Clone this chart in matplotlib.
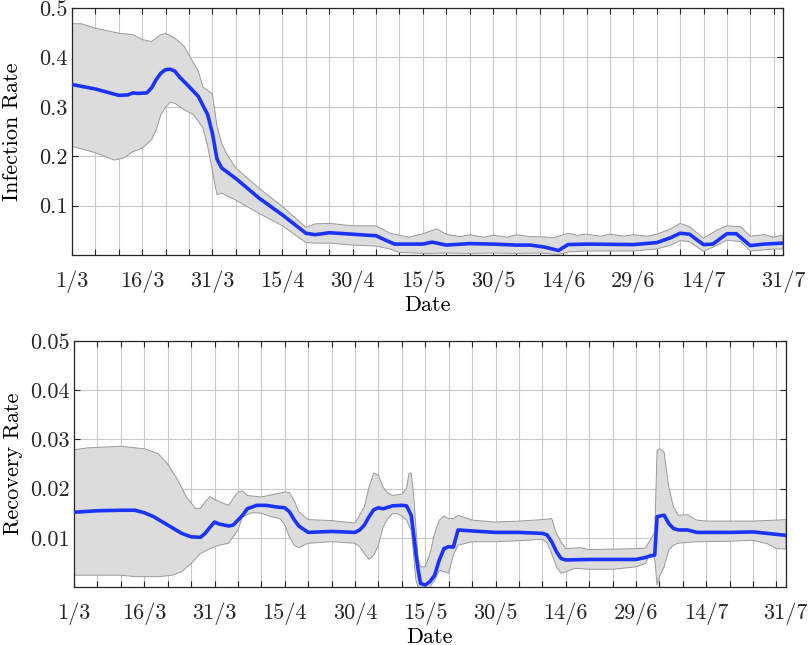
import numpy as np
import matplotlib
matplotlib.use("Agg")
import matplotlib.pyplot as plt

# days counted from 1 March
tick_days = [0, 15, 30, 45, 60, 75, 90, 105, 120, 135, 152]
tick_labels = ['1/3', '16/3', '31/3', '15/4', '30/4', '15/5', '30/5', '14/6', '29/6', '14/7', '31/7']

# infection rate: mean and band
inf_days = [0, 5, 10, 12, 13, 14, 16, 17, 18, 19, 20, 21, 22, 23, 25, 27, 29, 30, 31, 32,
            35, 40, 45, 50, 52, 55, 60, 63, 65, 67, 69, 72, 75, 77, 80, 85, 90, 95, 98, 101,
            104, 106, 110, 120, 125, 128, 130, 132, 135, 137, 140, 142, 145, 148, 152]
inf_mean = [0.345, 0.336, 0.323, 0.324, 0.328, 0.327, 0.328, 0.338, 0.355, 0.368,
            0.375, 0.376, 0.372, 0.360, 0.341, 0.321, 0.284, 0.247, 0.194, 0.176,
            0.155, 0.115, 0.081, 0.044, 0.041, 0.045, 0.042, 0.040, 0.039, 0.030,
            0.022, 0.022, 0.022, 0.026, 0.020, 0.023, 0.022, 0.020, 0.020, 0.016,
            0.009, 0.021, 0.022, 0.021, 0.025, 0.035, 0.044, 0.042, 0.021, 0.022,
            0.043, 0.043, 0.019, 0.022, 0.024]

inf_up_days = [0, 2, 5, 10, 13, 15, 17, 19, 20, 22, 24, 25, 27, 28, 30, 30.5, 31, 32, 33, 35,
               40, 45, 50, 52, 55, 60, 65, 68, 70, 72, 75, 78, 80, 83, 85, 88, 90, 93, 95, 98,
               100, 103, 106, 108, 110, 113, 115, 118, 120, 123, 125, 128, 130, 132, 135, 138,
               140, 143, 145, 148, 150, 152]
inf_upper = [0.468, 0.468, 0.459, 0.449, 0.446, 0.436, 0.432, 0.446, 0.448, 0.439,
             0.422, 0.405, 0.372, 0.340, 0.326, 0.294, 0.260, 0.226, 0.206, 0.176,
             0.135, 0.098, 0.056, 0.063, 0.064, 0.059, 0.059, 0.044, 0.040, 0.036,
             0.043, 0.053, 0.042, 0.037, 0.041, 0.036, 0.040, 0.036, 0.041, 0.037,
             0.037, 0.035, 0.044, 0.040, 0.042, 0.038, 0.042, 0.038, 0.041, 0.038,
             0.042, 0.053, 0.064, 0.057, 0.034, 0.051, 0.059, 0.057, 0.038, 0.041,
             0.036, 0.040]

inf_lo_days = [0, 5, 9, 11, 13, 15, 17, 18, 19, 20, 21, 22, 24, 26, 28, 29, 30, 30.5, 31, 32,
               35, 40, 45, 50, 52, 55, 60, 65, 68, 70, 73, 76, 80, 85, 90, 95, 100, 104, 106, 110,
               120, 125, 128, 130, 132, 135, 138, 140, 143, 145, 150, 152]
inf_lower = [0.220, 0.207, 0.192, 0.196, 0.209, 0.216, 0.233, 0.253, 0.284, 0.299,
             0.309, 0.307, 0.294, 0.284, 0.257, 0.220, 0.172, 0.145, 0.122, 0.125,
             0.111, 0.084, 0.059, 0.025, 0.024, 0.024, 0.020, 0.018, 0.012, 0.005,
             0.004, 0.003, 0.004, 0.003, 0.004, 0.003, 0.004, 0.001, 0.006, 0.008,
             0.008, 0.012, 0.020, 0.029, 0.027, 0.007, 0.020, 0.030, 0.027, 0.008,
             0.012, 0.012]

# recovery rate: mean and band
rec_days = [0, 5, 10, 13, 15, 17, 20, 23, 25, 27, 28, 29, 30, 31, 33, 34, 36, 37, 39, 41,
            43, 45, 46, 47, 48, 50, 55, 60, 61, 62, 63, 64, 65, 66, 68, 70, 71, 72, 72.5, 73,
            73.5, 74, 75, 76, 77, 78, 79, 80, 81, 82, 85, 90, 95, 100, 101, 102, 103, 104, 105, 110,
            115, 120, 122, 123, 124, 124.5, 125, 126, 127, 128, 129, 131, 133, 135, 140, 145, 150, 152]
rec_mean = [0.0152, 0.0155, 0.0156, 0.0156, 0.0151, 0.0143, 0.0126, 0.0109, 0.0102, 0.0101,
            0.0109, 0.0121, 0.0132, 0.0128, 0.0124, 0.0126, 0.0146, 0.0159, 0.0166, 0.0166,
            0.0163, 0.0161, 0.0153, 0.0137, 0.0124, 0.0111, 0.0113, 0.0111, 0.0116, 0.0126,
            0.0143, 0.0157, 0.0161, 0.0159, 0.0165, 0.0166, 0.0165, 0.0146, 0.0109, 0.0068,
            0.0034, 0.0007, 0.0004, 0.0011, 0.0024, 0.0055, 0.0078, 0.0082, 0.0081, 0.0116,
            0.0114, 0.0111, 0.0111, 0.0109, 0.0106, 0.0092, 0.0072, 0.0058, 0.0055, 0.0056,
            0.0056, 0.0056, 0.0060, 0.0063, 0.0065, 0.0143, 0.0144, 0.0146, 0.0129, 0.0119,
            0.0116, 0.0116, 0.0111, 0.0111, 0.0111, 0.0112, 0.0107, 0.0105]

rec_up_days = [0, 3, 10, 15, 18, 20, 22, 24, 26, 27, 28, 29, 30, 32, 33, 34, 35, 36, 37, 40,
               45, 46, 47, 48, 50, 55, 60, 62, 63, 64, 65, 66, 67, 68, 70, 71, 71.5, 72, 72.5, 73,
               73.5, 74, 75, 76, 77, 78, 79, 80, 81, 82, 85, 90, 95, 100, 102, 103, 104, 105, 108, 110,
               115, 120, 122, 123, 124, 124.5, 125, 126, 127, 128, 129, 131, 133, 135, 140, 145, 150, 152]
rec_upper = [0.0279, 0.0283, 0.0286, 0.0281, 0.0271, 0.0250, 0.0220, 0.0183, 0.0159, 0.0160,
             0.0173, 0.0184, 0.0178, 0.0170, 0.0166, 0.0180, 0.0193, 0.0195, 0.0186, 0.0183,
             0.0193, 0.0192, 0.0176, 0.0153, 0.0137, 0.0135, 0.0130, 0.0163, 0.0203, 0.0232,
             0.0227, 0.0203, 0.0191, 0.0186, 0.0189, 0.0200, 0.0230, 0.0232, 0.0190, 0.0122,
             0.0055, 0.0041, 0.0041, 0.0068, 0.0109, 0.0136, 0.0144, 0.0139, 0.0139, 0.0146,
             0.0136, 0.0132, 0.0134, 0.0137, 0.0139, 0.0109, 0.0092, 0.0078, 0.0080, 0.0076,
             0.0077, 0.0078, 0.0079, 0.0095, 0.0112, 0.0278, 0.0281, 0.0274, 0.0203, 0.0163,
             0.0146, 0.0147, 0.0136, 0.0134, 0.0134, 0.0134, 0.0136, 0.0137]

rec_lo_days = [0, 10, 13, 18, 21, 23, 25, 27, 29, 31, 33, 35, 36, 38, 40, 42, 44, 45, 46, 47,
               48, 50, 55, 60, 61, 62, 63, 64, 65, 66, 67, 68, 69, 70, 71, 72, 72.5, 73, 73.5, 74,
               75, 76, 77, 78, 79, 80, 81, 82, 85, 90, 95, 100, 101, 102, 103, 104, 105, 107, 110, 115,
               120, 122, 123, 124, 124.5, 125, 126, 127, 128, 129, 130, 133, 140, 145, 148, 150, 152]
rec_lower = [0.0024, 0.0024, 0.0021, 0.0021, 0.0024, 0.0031, 0.0048, 0.0068, 0.0078, 0.0085,
             0.0089, 0.0116, 0.0143, 0.0151, 0.0150, 0.0143, 0.0139, 0.0126, 0.0102, 0.0085,
             0.0080, 0.0089, 0.0092, 0.0089, 0.0082, 0.0068, 0.0056, 0.0065, 0.0085, 0.0122,
             0.0139, 0.0149, 0.0149, 0.0144, 0.0136, 0.0116, 0.0068, 0.0014, 0.0000, -0.0020,
             -0.0020, 0.0000, 0.0014, 0.0034, 0.0031, 0.0028, 0.0065, 0.0085, 0.0092, 0.0092,
             0.0094, 0.0097, 0.0090, 0.0068, 0.0041, 0.0028, 0.0031, 0.0038, 0.0036, 0.0036,
             0.0041, 0.0048, 0.0068, 0.0058, 0.0004, 0.0021, 0.0041, 0.0075, 0.0085, 0.0089,
             0.0090, 0.0092, 0.0093, 0.0095, 0.0088, 0.0078, 0.0077]

plt.rcParams['font.family'] = ['cmr10', 'DejaVu Serif']
plt.rcParams['axes.formatter.use_mathtext'] = True

line_col = '#1a33ff'
fill_col = '#dcdcdc'
edge_col = '#9a9a9a'
fs = 16


def panel(ax, md, mv, ud, uv, ld, lv, ymax, yticks, ylabels, ylabel, ylab_x):
    xs = np.r_[ud, ld[::-1]]
    ys = np.r_[uv, lv[::-1]]
    ax.fill(xs, ys, facecolor=fill_col, edgecolor=edge_col, linewidth=0.7, zorder=2)
    ax.plot(md, mv, color=line_col, linewidth=2.6, zorder=3)
    ax.set_xlim(0, 152)
    ax.set_ylim(0, ymax)
    grid_days = list(range(0, 151, 5)) + [152]
    ax.set_xticks(grid_days)
    ax.set_xticklabels([tick_labels[tick_days.index(t)] if t in tick_days else '' for t in grid_days])
    ax.set_yticks(yticks)
    ax.set_yticklabels(ylabels)
    ax.grid(True, color='#c8c8c8', linewidth=0.8, zorder=0)
    ax.set_axisbelow(True)
    ax.tick_params(direction='in', top=True, right=True, length=4, width=0.8,
                   labelsize=fs, colors='#262626')
    ax.tick_params(axis='x', pad=11)
    ax.tick_params(axis='y', pad=3)
    for s in ax.spines.values():
        s.set_color('#262626')
        s.set_linewidth(0.9)
    ax.set_xlabel('Date', fontsize=fs)
    ax.set_ylabel(ylabel, fontsize=fs)
    ax.xaxis.set_label_coords(0.5, -0.163)
    ax.yaxis.set_label_coords(ylab_x, 0.5)


fig = plt.figure(figsize=(8.08, 6.45), dpi=100)
ax1 = fig.add_axes([0.0891, 0.6047, 0.880, 0.383])
ax2 = fig.add_axes([0.0916, 0.0899, 0.881, 0.3814])

panel(ax1, inf_days, inf_mean, inf_up_days, inf_upper, inf_lo_days, inf_lower,
      0.5, [0.1, 0.2, 0.3, 0.4, 0.5], ['0.1', '0.2', '0.3', '0.4', '0.5'], 'Infection Rate', -0.070)
panel(ax2, rec_days, rec_mean, rec_up_days, rec_upper, rec_lo_days, rec_lower,
      0.05, [0.01, 0.02, 0.03, 0.04, 0.05], ['0.01', '0.02', '0.03', '0.04', '0.05'], 'Recovery Rate', -0.072)

fig.savefig('out.png', dpi=100)
